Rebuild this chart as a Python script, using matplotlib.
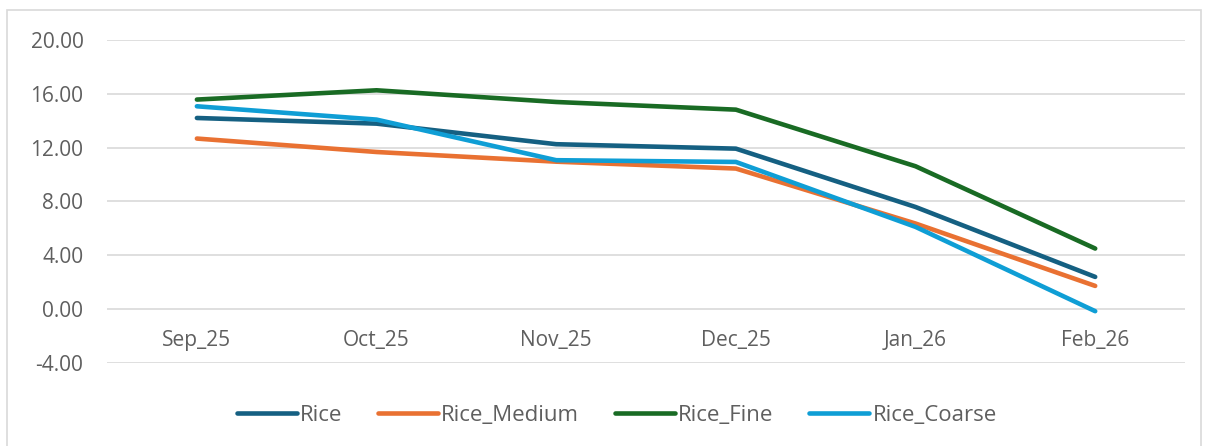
import matplotlib.pyplot as plt
from matplotlib.patches import Rectangle

months = ['Sep_25', 'Oct_25', 'Nov_25', 'Dec_25', 'Jan_26', 'Feb_26']
rice = [14.20, 13.78, 12.25, 11.92, 7.58, 2.38]
rice_medium = [12.67, 11.67, 10.95, 10.44, 6.35, 1.71]
rice_fine = [15.57, 16.26, 15.39, 14.82, 10.61, 4.49]
rice_coarse = [15.07, 14.08, 11.06, 10.93, 6.10, -0.17]

series = [
    ('Rice', rice, '#156082'),
    ('Rice_Medium', rice_medium, '#E97132'),
    ('Rice_Fine', rice_fine, '#196B24'),
    ('Rice_Coarse', rice_coarse, '#0F9ED5'),
]

plt.rcParams['font.family'] = ['Open Sans', 'DejaVu Sans']
txt = '#5f5f5f'

fig = plt.figure(figsize=(12.07, 4.46), dpi=100)
ax = fig.add_axes([0.0887, 0.1868, 0.8931, 0.7235])

x = range(len(months))
for name, vals, col in series:
    ax.plot(x, vals, color=col, lw=3.3, solid_capstyle='round',
            solid_joinstyle='round', label=name, zorder=3)

ax.set_xlim(-0.5, len(months) - 0.5)
ax.set_ylim(-4, 20)
ax.set_yticks(range(-4, 21, 4))
ax.set_yticklabels([f'{v:.2f}' for v in range(-4, 21, 4)])
ax.set_xticks(list(x))
ax.set_xticklabels(months)
ax.grid(axis='y', color='#D9D9D9', lw=1.2, zorder=0)

for s in ax.spines.values():
    s.set_visible(False)
ax.spines['bottom'].set_position(('data', 0))
ax.tick_params(axis='both', length=0, colors=txt, labelsize=15)
ax.tick_params(axis='x', pad=15)
ax.tick_params(axis='y', pad=17)

leg = fig.legend(loc='center', bbox_to_anchor=(0.511, 0.068), ncol=4,
                 frameon=False, fontsize=16, handlelength=2.7,
                 handletextpad=0.15, columnspacing=1.6)
for t in leg.get_texts():
    t.set_color(txt)

fig.add_artist(Rectangle((7 / 1207, -0.01), 1194 / 1207, (446 - 10) / 446 + 0.01,
                         transform=fig.transFigure, fill=False,
                         edgecolor='#D9D9D9', lw=1.2))

fig.savefig('out.png', dpi=100)
